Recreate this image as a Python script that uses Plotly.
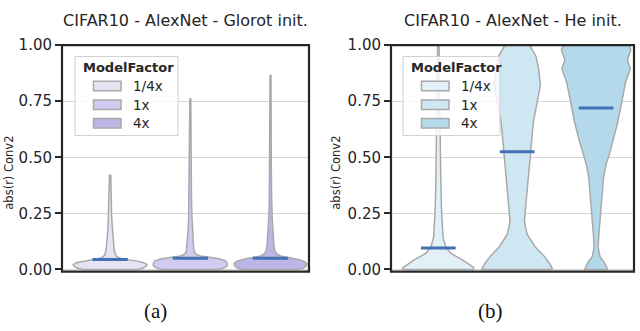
import plotly.graph_objects as go

# ---------------- data ----------------
factors = ["1/4x", "1x", "4x"]
panel_titles = ["CIFAR10 - AlexNet - Glorot init.", "CIFAR10 - AlexNet - He init."]
captions = ["(a)", "(b)"]
y_ticks = [0.0, 0.25, 0.5, 0.75, 1.0]
y_ticktext = ["0.00", "0.25", "0.50", "0.75", "1.00"]

# Glorot panel: violin density profiles (abs(r) level, half-width in category units)
glorot_q_y = [0.0, 0.006, 0.014, 0.022, 0.03, 0.037, 0.043, 0.05, 0.058, 0.07, 0.09, 0.12, 0.16, 0.2, 0.25, 0.32, 0.42]
glorot_q_w = [0.34, 0.41, 0.45, 0.46, 0.42, 0.34, 0.22, 0.125, 0.081, 0.062, 0.05, 0.041, 0.032, 0.025, 0.018, 0.012, 0.008]
glorot_1_y = [0.0, 0.006, 0.016, 0.028, 0.038, 0.046, 0.053, 0.06, 0.068, 0.08, 0.1, 0.13, 0.18, 0.23, 0.3, 0.45, 0.6, 0.76]
glorot_1_w = [0.36, 0.42, 0.46, 0.46, 0.44, 0.37, 0.26, 0.125, 0.069, 0.05, 0.041, 0.035, 0.027, 0.021, 0.015, 0.01, 0.008, 0.006]
glorot_4_y = [0.0, 0.006, 0.016, 0.026, 0.036, 0.044, 0.052, 0.06, 0.07, 0.085, 0.1, 0.13, 0.18, 0.23, 0.3, 0.45, 0.65, 0.865]
glorot_4_w = [0.36, 0.41, 0.45, 0.455, 0.42, 0.35, 0.24, 0.125, 0.075, 0.054, 0.045, 0.037, 0.029, 0.022, 0.015, 0.01, 0.008, 0.006]
glorot_means = [0.044, 0.05, 0.05]

# He panel
he_q_y = [0.0, 0.008, 0.02, 0.044, 0.072, 0.10, 0.143, 0.2, 0.257, 0.4, 0.54, 0.667, 0.85, 1.0]
he_q_w = [0.45, 0.45, 0.40, 0.30, 0.156, 0.094, 0.06, 0.047, 0.041, 0.031, 0.025, 0.019, 0.0125, 0.009]
he_1_y = [0.0, 0.023, 0.058, 0.10, 0.157, 0.214, 0.27, 0.355, 0.44, 0.525, 0.61, 0.667, 0.752, 0.823, 0.894, 0.95, 1.0]
he_1_w = [0.45, 0.416, 0.344, 0.229, 0.125, 0.091, 0.104, 0.129, 0.152, 0.171, 0.191, 0.209, 0.256, 0.294, 0.271, 0.238, 0.156]
he_4_y = [0.0, 0.03, 0.058, 0.10, 0.157, 0.242, 0.327, 0.412, 0.469, 0.511, 0.582, 0.653, 0.724, 0.78, 0.837, 0.894, 0.936, 0.979, 1.0]
he_4_w = [0.146, 0.104, 0.048, 0.025, 0.035, 0.052, 0.072, 0.094, 0.125, 0.166, 0.219, 0.271, 0.3125, 0.344, 0.375, 0.434, 0.396, 0.441, 0.416]
he_means = [0.095, 0.525, 0.72]

glorot_colors = ["#e6e4f4", "#d0cbef", "#bcb5e7"]
he_colors = ["#e2f1f8", "#cfe7f3", "#b4d9eb"]

panels = [
    dict(profiles=[(glorot_q_y, glorot_q_w), (glorot_1_y, glorot_1_w), (glorot_4_y, glorot_4_w)],
         means=glorot_means, colors=glorot_colors),
    dict(profiles=[(he_q_y, he_q_w), (he_1_y, he_1_w), (he_4_y, he_4_w)],
         means=he_means, colors=he_colors),
]

fig = go.Figure()
outline = "#a9a9a9"
mean_color = "#4470b5"
mean_half = 0.22

for p, panel in enumerate(panels):
    xa = "x" if p == 0 else "x2"
    ya = "y" if p == 0 else "y2"
    for i, (ys, ws) in enumerate(panel["profiles"]):
        xs = [i + w for w in ws] + [i - w for w in reversed(ws)] + [i + ws[0]]
        yy = list(ys) + list(reversed(ys)) + [ys[0]]
        fig.add_trace(go.Scatter(
            x=xs, y=yy, xaxis=xa, yaxis=ya, mode="lines", fill="toself",
            fillcolor=panel["colors"][i], line=dict(color=outline, width=1.5),
            name=factors[i], showlegend=False, hoverinfo="skip"))
    for i, m in enumerate(panel["means"]):
        fig.add_trace(go.Scatter(
            x=[i - mean_half, i + mean_half], y=[m, m], xaxis=xa, yaxis=ya,
            mode="lines", line=dict(color=mean_color, width=3), showlegend=False,
            hoverinfo="skip"))

font_main = "DejaVu Sans"
ink = "#262626"
W, H = 640, 331
yt, yb = 1 - 38 / H, 1 - 276 / H
doms = [(62 / W, 309 / W), (391 / W, 634 / W)]

for k, (d0, d1) in enumerate(doms):
    sx = "" if k == 0 else "2"
    xkw = dict(domain=[d0, d1], range=[-0.6, 2.48], showticklabels=False, ticks="",
               showgrid=False, zeroline=False, showline=False, anchor="y" + sx, fixedrange=True)
    ykw = dict(domain=[yb, yt], range=[-0.01, 1.0], tickvals=y_ticks, ticktext=y_ticktext,
               ticks="outside", ticklen=6, tickwidth=2, tickcolor=ink, showgrid=True,
               gridcolor="#d6d6d6", gridwidth=1, zeroline=False, showline=False,
               tickfont=dict(family=font_main, size=15, color=ink), anchor="x" + sx,
               fixedrange=True)
    fig.update_layout({"xaxis" + sx: xkw, "yaxis" + sx: ykw})

shapes = []
annotations = []
for k, (d0, d1) in enumerate(doms):
    # panel frame
    shapes.append(dict(type="rect", xref="paper", yref="paper",
                       x0=d0, x1=d1, y0=yb, y1=yt, line=dict(color=ink, width=2.2),
                       fillcolor="rgba(0,0,0,0)", layer="above"))
    annotations.append(dict(text=panel_titles[k], x=(d0 + d1) / 2, y=1 - 12 / H, xref="paper",
                            yref="paper", showarrow=False, xanchor="center", yanchor="middle",
                            font=dict(family=font_main, size=16, color=ink)))
    annotations.append(dict(text="abs(r) Conv2", x=(9 if k == 0 else 336) / W, y=1 - 172 / H,
                            xref="paper", yref="paper", showarrow=False, textangle=-90,
                            xanchor="center", yanchor="middle",
                            font=dict(family=font_main, size=11.5, color=ink)))
    annotations.append(dict(text=captions[k], x=(155 if k == 0 else 490) / W, y=1 - 317 / H,
                            xref="paper", yref="paper", showarrow=False, xanchor="center",
                            yanchor="middle",
                            font=dict(family="Liberation Serif", size=21, color="#111111")))

    # manual legend (box, title, swatches, labels)
    off = 0 if k == 0 else 328
    box_w = 103 if k == 0 else 97
    shapes.append(dict(type="rect", xref="paper", yref="paper",
                       x0=(75 + off) / W, x1=(75 + off + box_w) / W,
                       y0=1 - 133 / H, y1=1 - 50 / H,
                       line=dict(color="#d0d0d0", width=1), fillcolor="rgba(255,255,255,0.8)",
                       layer="above"))
    annotations.append(dict(text="<b>ModelFactor</b>", x=(81 + off) / W, y=1 - 61 / H,
                            xref="paper", yref="paper", showarrow=False, xanchor="left",
                            yanchor="middle", font=dict(family=font_main, size=13, color=ink)))
    colors = panels[k]["colors"]
    for j, name in enumerate(factors):
        cy = [81, 100.5, 120][j]
        shapes.append(dict(type="rect", xref="paper", yref="paper",
                           x0=(93.5 + off) / W, x1=(121 + off) / W,
                           y0=1 - (cy + 5) / H, y1=1 - (cy - 5) / H,
                           line=dict(color="#a9a9a9", width=1.5), fillcolor=colors[j],
                           layer="above"))
        annotations.append(dict(text=name, x=(131 + off) / W, y=1 - cy / H,
                                xref="paper", yref="paper", showarrow=False, xanchor="left",
                                yanchor="middle", font=dict(family=font_main, size=13.5, color=ink)))

fig.update_layout(
    width=W, height=H, margin=dict(l=0, r=0, t=0, b=0),
    paper_bgcolor="white", plot_bgcolor="white", showlegend=False,
    shapes=shapes, annotations=annotations,
)

fig.write_html("out.html", config={"displayModeBar": False},
               post_script="document.body.style.margin='0';document.body.style.overflow='hidden';")
